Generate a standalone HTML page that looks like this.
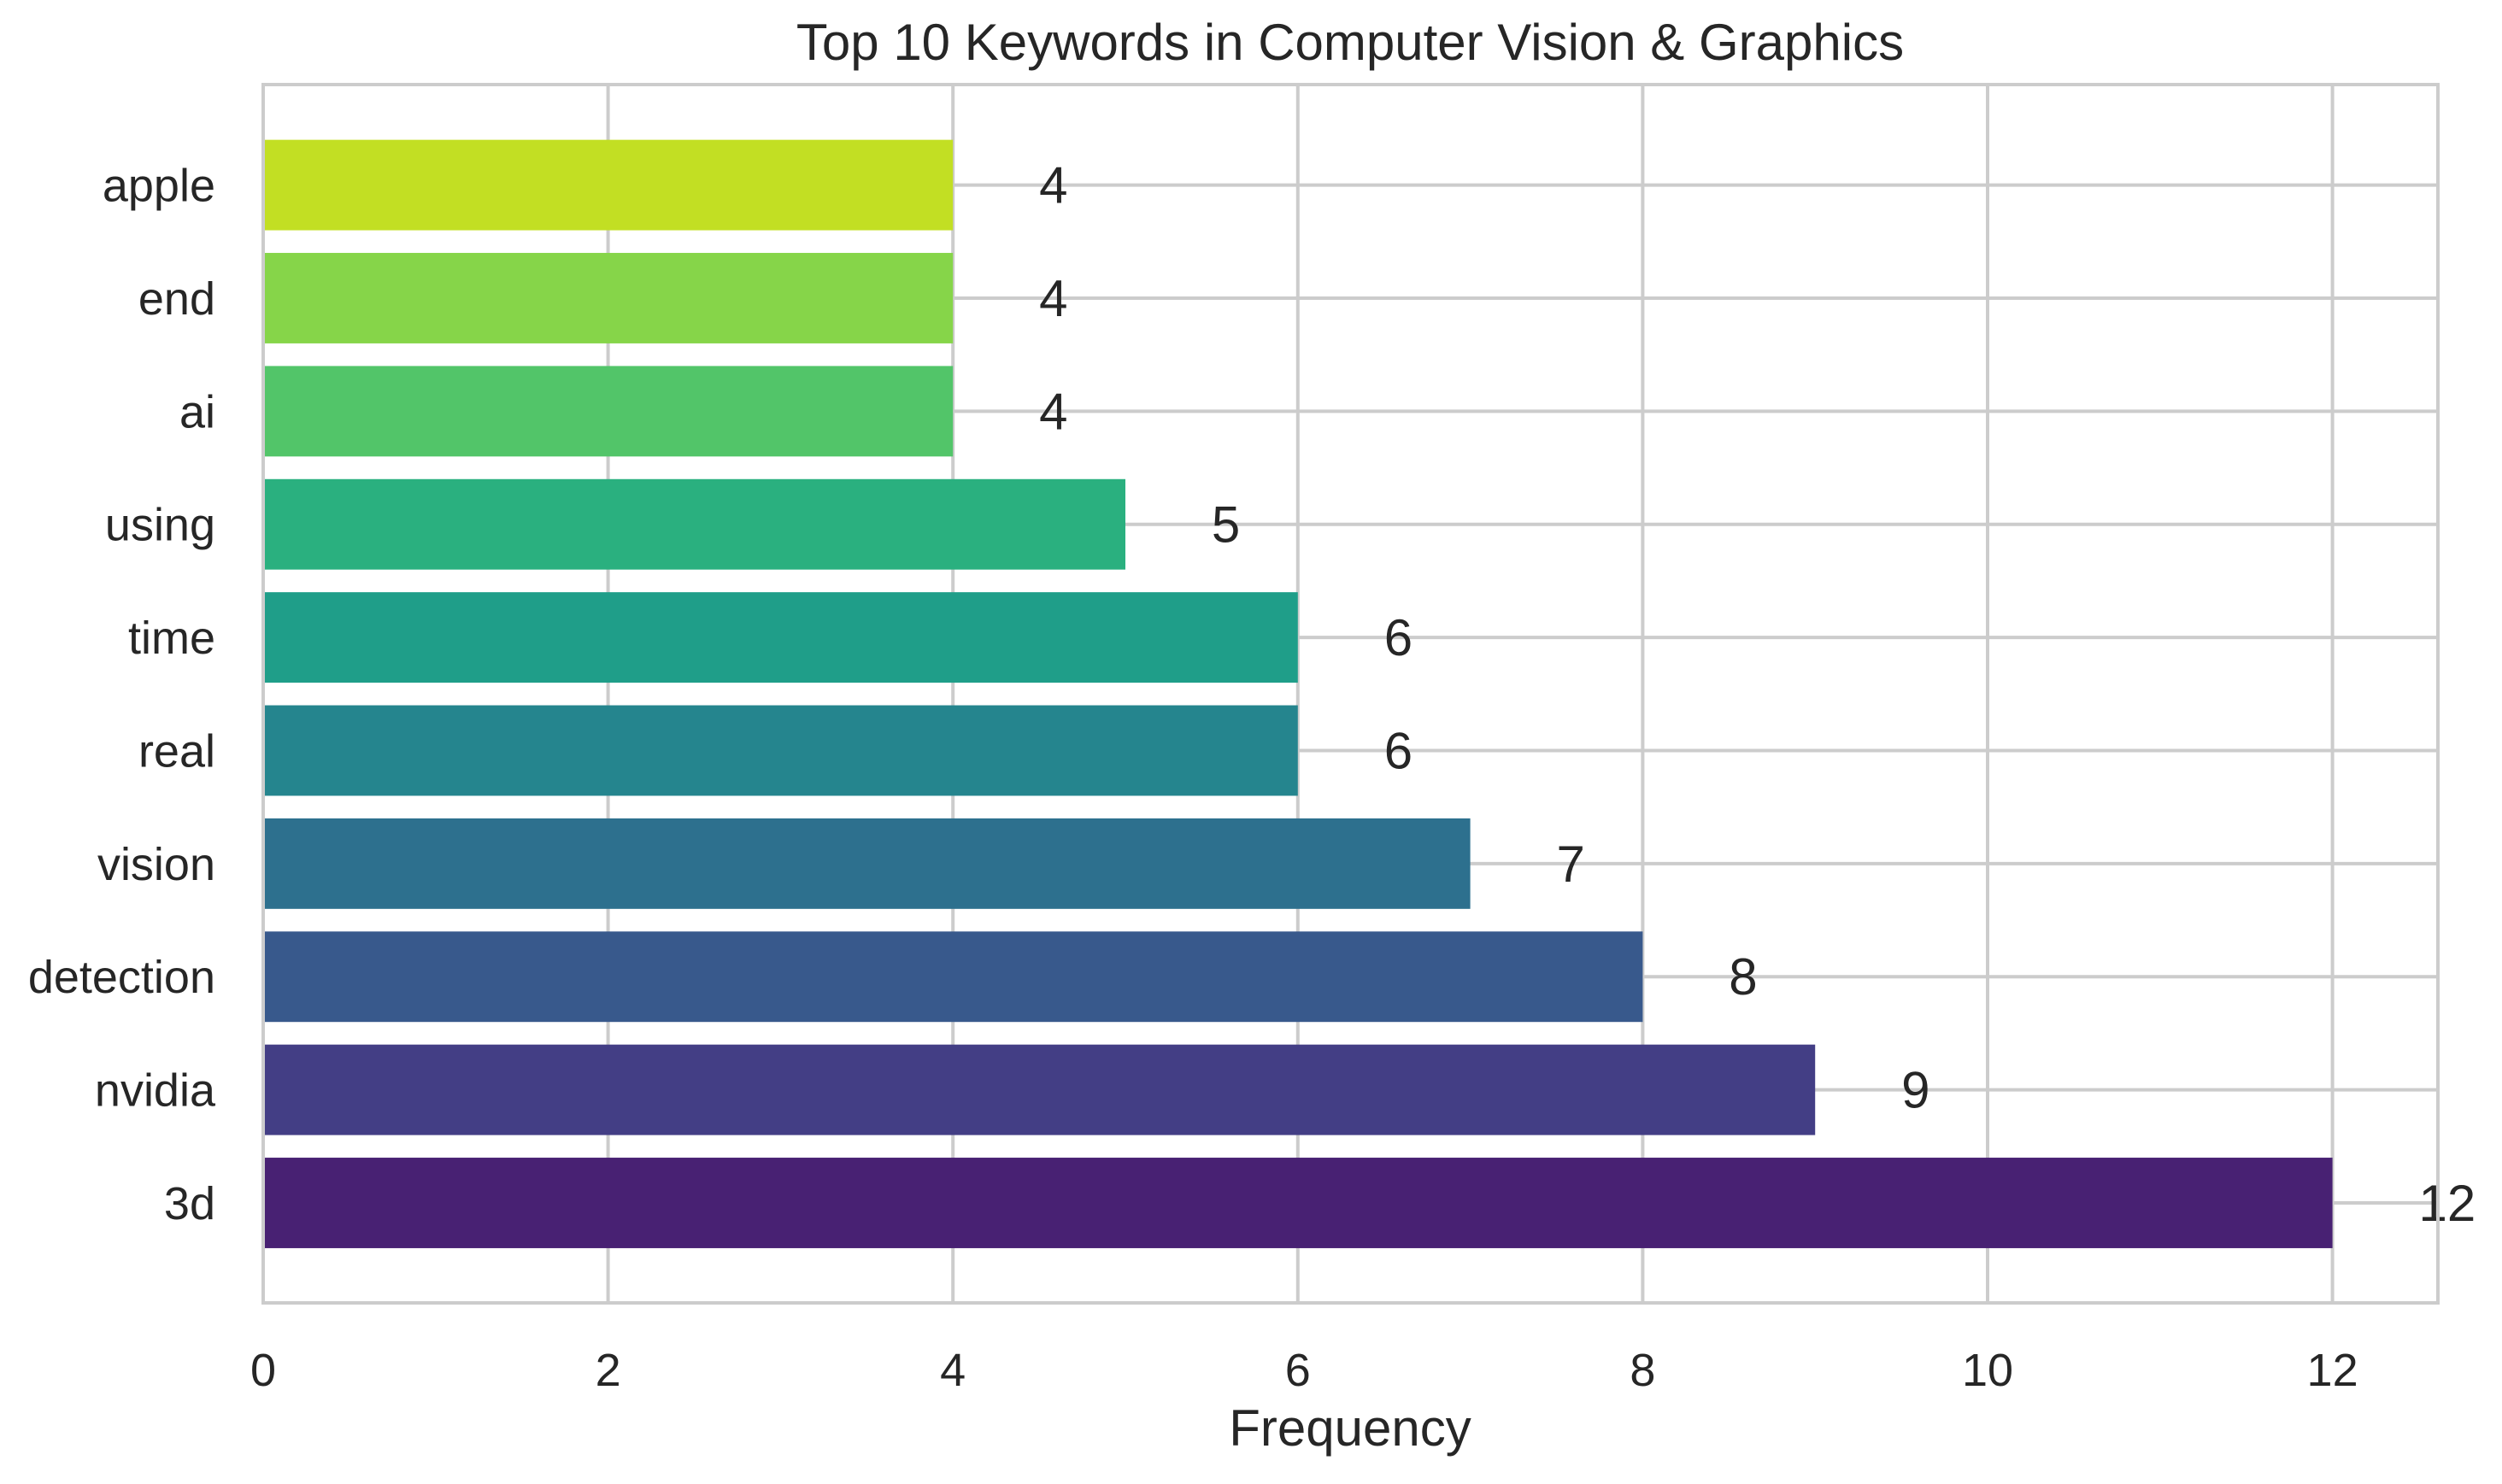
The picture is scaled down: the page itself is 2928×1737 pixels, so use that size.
<!DOCTYPE html>
<html><head><meta charset="utf-8"><style>
html,body{margin:0;padding:0;background:#fff;}
svg text{font-family:"Liberation Sans",sans-serif;fill:#262626;}
</style></head><body>
<svg id="chart" width="2928" height="1732" viewBox="0 0 2928 1732" xmlns="http://www.w3.org/2000/svg">
<rect width="2928" height="1732" fill="#fff"/>
<g id="grid"></g>
<g id="bars"></g>
<g id="labels"></g>
<rect x="308" y="99" width="2545" height="1426" fill="none" stroke="#cccccc" stroke-width="4"/>
<text x="1580" y="70" font-size="60" text-anchor="middle">Top 10 Keywords in Computer Vision &amp; Graphics</text>
<text x="1580" y="1692" font-size="60" text-anchor="middle">Frequency</text>
</svg>
<script>
const categories = ["3d","nvidia","detection","vision","real","time","using","ai","end","apple"];
const values = [12,9,8,7,6,6,5,4,4,4];
const colors = ["#482173","#433e85","#38598c","#2d708e","#25858e","#1f9e89","#2ab07f","#52c569","#86d549","#c2df23"];
const xTicks = [0,2,4,6,8,10,12];

const NS="http://www.w3.org/2000/svg";
const L=308,R=2853,T=99,B=1525;
const x = v => L + v*201.8;
const yTop=216.6, yBot=1408;
const step=(yBot-yTop)/(categories.length-1);
const y = i => yBot - i*step;
const bh = step*0.8;
function mk(tag,attrs,parent){const e=document.createElementNS(NS,tag);for(const k in attrs)e.setAttribute(k,attrs[k]);parent.appendChild(e);return e;}
const grid=document.getElementById('grid'),bars=document.getElementById('bars'),labels=document.getElementById('labels');
xTicks.forEach(t=>{
  const l=mk('line',{x1:x(t),x2:x(t),y1:T,y2:B,stroke:'#cccccc','stroke-width':4},grid);
  
  
  const tx=mk('text',{x:x(t),y:1622,'font-size':54,'text-anchor':'middle'},labels);
  tx.textContent=t;
  
  
});
categories.forEach((c,i)=>{
  const l=mk('line',{x1:L,x2:R,y1:y(i),y2:y(i),stroke:'#cccccc','stroke-width':4},grid);
  
  
  const r=mk('rect',{x:L+2,y:y(i)-bh/2,width:x(values[i])-L-2,height:bh,fill:colors[i]},bars);
  
  
  const tl=mk('text',{x:252,y:y(i)+19,'font-size':54,'text-anchor':'end'},labels);
  tl.textContent=c;
  
  
  const vl=mk('text',{x:x(values[i]+0.5),y:y(i)+21,'font-size':60},labels);
  vl.textContent=values[i];
  
  
});
</script>
</body></html>
